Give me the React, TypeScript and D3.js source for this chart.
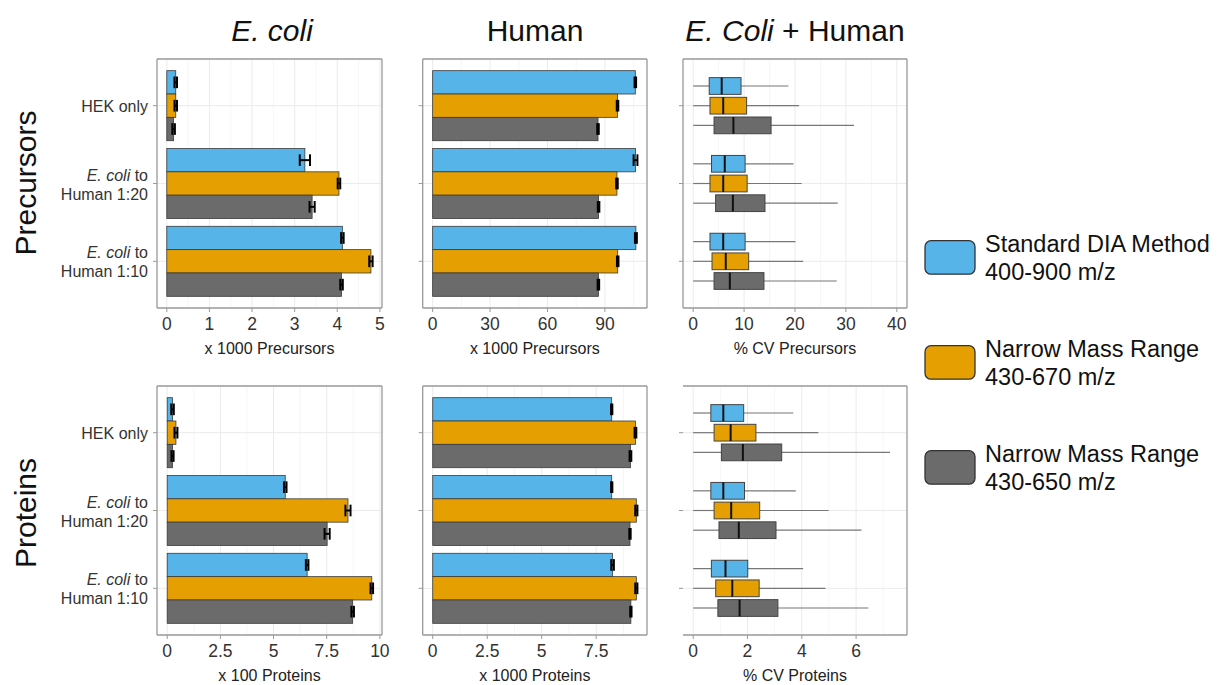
import * as d3 from 'd3';

// sample groups (y axis), top to bottom
const GROUPS = ['HEK only', 'E. coli to Human 1:20', 'E. coli to Human 1:10'];

// acquisition methods (legend), each split in two lines
const METHODS = [
  ['Standard DIA Method', '400-900 m/z'],
  ['Narrow Mass Range', '430-670 m/z'],
  ['Narrow Mass Range', '430-650 m/z'],
];
const COLORS = ['#56B4E9', '#E69F00', '#6B6B6B'];

// bar values: [group][method]
const ECOLI_PRECURSORS = [
  [0.21, 0.21, 0.16],
  [3.24, 4.04, 3.41],
  [4.12, 4.79, 4.1],
];
const ECOLI_PRECURSORS_ERR = [
  [0.03, 0.03, 0.03],
  [0.12, 0.03, 0.06],
  [0.03, 0.04, 0.03],
];
const HUMAN_PRECURSORS = [
  [105.9, 96.6, 86.4],
  [106.0, 96.3, 86.7],
  [106.2, 96.7, 86.6],
];
const HUMAN_PRECURSORS_ERR = [
  [0.4, 0.4, 0.4],
  [1.0, 0.4, 0.4],
  [0.5, 0.4, 0.4],
];
const ECOLI_PROTEINS = [
  [0.25, 0.41, 0.25],
  [5.55, 8.5, 7.52],
  [6.58, 9.62, 8.72],
];
const ECOLI_PROTEINS_ERR = [
  [0.06, 0.07, 0.05],
  [0.06, 0.12, 0.12],
  [0.06, 0.06, 0.06],
];
const HUMAN_PROTEINS = [
  [8.21, 9.3, 9.07],
  [8.21, 9.34, 9.05],
  [8.25, 9.34, 9.09],
];
const HUMAN_PROTEINS_ERR = [
  [0.03, 0.04, 0.04],
  [0.03, 0.05, 0.03],
  [0.06, 0.05, 0.03],
];

// boxplots: [group][method] = [min, q1, median, q3, max]
const CV_PRECURSORS = [
  [[0, 3.15, 5.6, 9.4, 18.7], [0, 3.3, 5.9, 10.5, 20.8], [0, 4.1, 7.9, 15.3, 31.6]],
  [[0, 3.6, 6.2, 10.2, 19.7], [0, 3.3, 5.9, 10.6, 21.3], [0, 4.4, 7.8, 14.1, 28.4]],
  [[0, 3.3, 5.9, 10.2, 20.1], [0, 3.7, 6.4, 10.9, 21.6], [0, 4.1, 7.2, 13.9, 28.2]],
];
const CV_PROTEINS = [
  [[0, 0.65, 1.11, 1.86, 3.69], [0, 0.77, 1.38, 2.31, 4.61], [0, 1.04, 1.83, 3.26, 7.25]],
  [[0, 0.65, 1.11, 1.89, 3.78], [0, 0.77, 1.4, 2.45, 4.99], [0, 0.95, 1.68, 3.05, 6.2]],
  [[0, 0.67, 1.19, 2.01, 4.05], [0, 0.83, 1.44, 2.43, 4.87], [0, 0.91, 1.71, 3.12, 6.45]],
];

const FONT = "'Liberation Sans', Arial, sans-serif";

type PanelProps = {
  x0: number;
  x1: number;
  y0: number;
  y1: number;
  domain: [number, number];
  ticks: number[];
  title: string;
  values?: number[][];
  errors?: number[][];
  boxes?: number[][][];
  showCategories?: boolean;
  leftBorder?: boolean;
};

function CategoryLabel({ label, x, y }: { label: string; x: number; y: number }) {
  if (label.startsWith('E. coli')) {
    const rest = label.replace('E. coli to ', '');
    return (
      <text x={x} textAnchor="end" fontSize={16} fill="#333">
        <tspan x={x} y={y - 3}>
          <tspan fontStyle="italic">E. coli</tspan> to
        </tspan>
        <tspan x={x} y={y + 16}>{rest}</tspan>
      </text>
    );
  }
  return (
    <text x={x} y={y + 6} textAnchor="end" fontSize={16} fill="#333">
      {label}
    </text>
  );
}

function Panel({ x0, x1, y0, y1, domain, ticks, title, values, errors, boxes, showCategories, leftBorder = true }: PanelProps) {
  const x = d3.scaleLinear().domain(domain).range([x0, x1]);
  const y = d3.scaleLinear().domain([0.4, 3.6]).range([y0, y1]);
  const step = ticks[1] - ticks[0];
  const minor = d3.range(ticks[0] - step / 2, domain[1], step).filter((v) => v > domain[0]);
  const unit = y(1) - y(0);

  return (
    <g>
      <rect x={x0} y={y0} width={x1 - x0} height={y1 - y0} fill="#fff" />
      {minor.map((v) => (
        <line key={'m' + v} x1={x(v)} x2={x(v)} y1={y0} y2={y1} stroke="#f4f4f4" strokeWidth={0.8} />
      ))}
      {ticks.map((v) => (
        <line key={'g' + v} x1={x(v)} x2={x(v)} y1={y0} y2={y1} stroke="#ebebeb" strokeWidth={1} />
      ))}
      {GROUPS.map((g, i) => (
        <line key={'h' + g} x1={x0} x2={x1} y1={y(i + 1)} y2={y(i + 1)} stroke="#ebebeb" strokeWidth={1} />
      ))}

      {values &&
        values.map((row, i) =>
          row.map((v, j) => {
            const top = y(i + 1 + (j - 1) * 0.3 - 0.15);
            const e = errors ? errors[i][j] : 0;
            const cy = top + (0.3 * unit) / 2;
            const hw = 0.075 * unit;
            return (
              <g key={`b${i}-${j}`}>
                <rect
                  x={x(0)}
                  y={top}
                  width={x(v) - x(0)}
                  height={0.3 * unit}
                  fill={COLORS[j]}
                  stroke="#3a3a3a"
                  strokeWidth={0.8}
                />
                <g stroke="#000" strokeWidth={2}>
                  <line x1={x(v - e)} x2={x(v + e)} y1={cy} y2={cy} />
                  <line x1={x(v - e)} x2={x(v - e)} y1={cy - hw} y2={cy + hw} />
                  <line x1={x(v + e)} x2={x(v + e)} y1={cy - hw} y2={cy + hw} />
                </g>
              </g>
            );
          })
        )}

      {boxes &&
        boxes.map((row, i) =>
          row.map(([mn, q1, med, q3, mx], j) => {
            const cy = y(i + 1 + (j - 1) * 0.253);
            const h = 0.215 * unit;
            return (
              <g key={`x${i}-${j}`}>
                <line x1={x(mn)} x2={x(q1)} y1={cy} y2={cy} stroke="#777" strokeWidth={1.2} />
                <line x1={x(q3)} x2={x(mx)} y1={cy} y2={cy} stroke="#777" strokeWidth={1.2} />
                <rect
                  x={x(q1)}
                  y={cy - h / 2}
                  width={x(q3) - x(q1)}
                  height={h}
                  fill={COLORS[j]}
                  stroke="#444"
                  strokeWidth={1}
                />
                <line x1={x(med)} x2={x(med)} y1={cy - h / 2} y2={cy + h / 2} stroke="#111" strokeWidth={2} />
              </g>
            );
          })
        )}

      {/* border */}
      <g stroke="#999" strokeWidth={1.3} fill="none">
        <line x1={x0} x2={x1} y1={y0} y2={y0} />
        <line x1={x1} x2={x1} y1={y0} y2={y1} />
        <line x1={x0} x2={x1} y1={y1} y2={y1} />
        {leftBorder && <line x1={x0} x2={x0} y1={y0} y2={y1} />}
      </g>

      {/* y ticks */}
      {GROUPS.map((g, i) => (
        <line key={'yt' + g} x1={x0 - 4} x2={x0} y1={y(i + 1)} y2={y(i + 1)} stroke="#999" strokeWidth={1} />
      ))}
      {showCategories &&
        GROUPS.map((g, i) => <CategoryLabel key={'c' + g} label={g} x={x0 - 9} y={y(i + 1)} />)}

      {/* x axis */}
      {ticks.map((v) => (
        <g key={'t' + v}>
          <line x1={x(v)} x2={x(v)} y1={y1} y2={y1 + 4} stroke="#999" strokeWidth={1} />
          <text x={x(v)} y={y1 + 22} textAnchor="middle" fontSize={17.5} fill="#333">
            {String(v)}
          </text>
        </g>
      ))}
      <text x={(x0 + x1) / 2} y={y1 + 46} textAnchor="middle" fontSize={16} fill="#222">
        {title}
      </text>
    </g>
  );
}

export default function App() {
  const top: [number, number] = [59, 308];
  const bot: [number, number] = [386, 635];
  const c1: [number, number] = [157, 382];
  const c2: [number, number] = [422.7, 647];
  const c3: [number, number] = [683, 907];
  const legendY = [240.7, 345.7, 450.7];

  return (
    <svg
      width={1218}
      height={685}
      style={{ position: 'absolute', left: 0, top: 0, background: '#fff' }}
      fontFamily={FONT}
    >
      {/* column titles */}
      <text x={272} y={41} textAnchor="middle" fontSize={30} fontStyle="italic" fill="#111">
        E. coli
      </text>
      <text x={535} y={41} textAnchor="middle" fontSize={30} fill="#111">
        Human
      </text>
      <text x={795} y={41} textAnchor="middle" fontSize={30} fill="#111">
        <tspan fontStyle="italic">E. Coli</tspan> + Human
      </text>

      {/* row titles */}
      <text transform="translate(36,183) rotate(-90)" textAnchor="middle" fontSize={30} fill="#111">
        Precursors
      </text>
      <text transform="translate(36,513) rotate(-90)" textAnchor="middle" fontSize={30} fill="#111">
        Proteins
      </text>

      <Panel x0={c1[0]} x1={c1[1]} y0={top[0]} y1={top[1]} domain={[-0.23, 5.05]} ticks={[0, 1, 2, 3, 4, 5]}
        title="x 1000 Precursors" values={ECOLI_PRECURSORS} errors={ECOLI_PRECURSORS_ERR} showCategories />
      <Panel x0={c2[0]} x1={c2[1]} y0={top[0]} y1={top[1]} domain={[-5.2, 112]} ticks={[0, 30, 60, 90]}
        title="x 1000 Precursors" values={HUMAN_PRECURSORS} errors={HUMAN_PRECURSORS_ERR} />
      <Panel x0={c3[0]} x1={c3[1]} y0={top[0]} y1={top[1]} domain={[-2, 42]} ticks={[0, 10, 20, 30, 40]}
        title="% CV Precursors" boxes={CV_PRECURSORS} />

      <Panel x0={c1[0]} x1={c1[1]} y0={bot[0]} y1={bot[1]} domain={[-0.48, 10.1]} ticks={[0, 2.5, 5, 7.5, 10]}
        title="x 100 Proteins" values={ECOLI_PROTEINS} errors={ECOLI_PROTEINS_ERR} showCategories />
      <Panel x0={c2[0]} x1={c2[1]} y0={bot[0]} y1={bot[1]} domain={[-0.46, 9.83]} ticks={[0, 2.5, 5, 7.5]}
        title="x 1000 Proteins" values={HUMAN_PROTEINS} errors={HUMAN_PROTEINS_ERR} />
      <Panel x0={c3[0]} x1={c3[1]} y0={bot[0]} y1={bot[1]} domain={[-0.375, 7.875]} ticks={[0, 2, 4, 6]}
        title="% CV Proteins" boxes={CV_PROTEINS} leftBorder={false} />

      {/* legend */}
      {METHODS.map((m, i) => (
        <g key={'l' + i}>
          <rect x={925} y={legendY[i]} width={50} height={33.5} rx={6} fill={COLORS[i]} stroke="#333" strokeWidth={1.3} />
          <text x={985} y={legendY[i] + 11} fontSize={23.5} fill="#111">
            {m[0]}
          </text>
          <text x={985} y={legendY[i] + 39.5} fontSize={23.5} fill="#111">
            {m[1]}
          </text>
        </g>
      ))}
    </svg>
  );
}
